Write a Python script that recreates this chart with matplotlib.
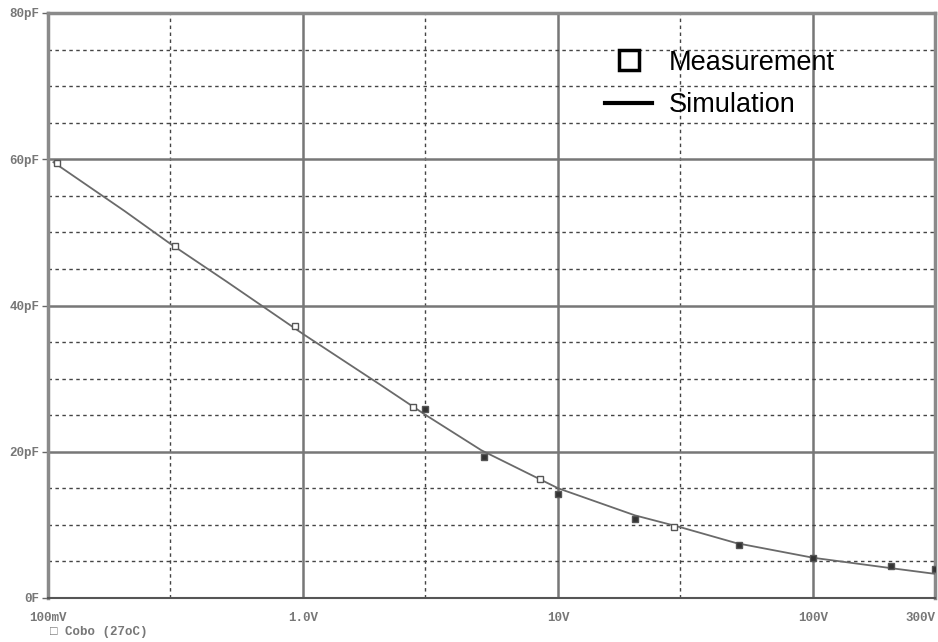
import matplotlib
matplotlib.use('Agg')
import matplotlib.pyplot as plt
from matplotlib.lines import Line2D
import numpy as np

# simulation trace (V, pF)
sim_v = [0.105, 0.2, 0.3, 0.5, 1.0, 2.0, 3.0, 5.0, 10.0, 20.0, 30.0, 50.0, 100.0, 200.0, 300.0]
sim_c = [59.6, 52.9, 48.5, 43.3, 36.1, 29.2, 25.1, 20.2, 15.0, 11.3, 9.7, 7.5, 5.5, 4.1, 3.3]

# measurement points, open and dark squares
meas_open_v = [0.108, 0.315, 0.93, 2.7, 8.5, 28.5]
meas_open_c = [59.5, 48.2, 37.2, 26.1, 16.3, 9.7]
meas_dark_v = [3.0, 5.1, 10.0, 20.0, 51.0, 100.0, 202.0, 300.0]
meas_dark_c = [25.9, 19.3, 14.2, 10.8, 7.25, 5.5, 4.4, 3.9]

xticks = [0.1, 1.0, 10.0, 100.0, 300.0]
xtick_labels = ['100mV', '1.0V', '10V', '100V', '300V']
yticks = [0, 20, 40, 60, 80]
ytick_labels = ['0F', '20pF', '40pF', '60pF', '80pF']

fig = plt.figure(figsize=(9.38, 6.42), dpi=100)
ax = fig.add_axes([48 / 938, 44 / 642, 887 / 938, 585 / 642])
ax.set_xscale('log')
ax.set_xlim(0.1, 300)
ax.set_ylim(0, 80)

# grid: solid at decades / 20pF, dashed elsewhere
for v in [1, 10, 100]:
    ax.axvline(v, color='#777777', lw=1.8, zorder=1)
for v in [0.3, 3, 30]:
    ax.axvline(v, color='#444444', lw=1.0, ls=(0, (2.5, 2.5)), zorder=1)
for c in [20, 40, 60]:
    ax.axhline(c, color='#777777', lw=1.8, zorder=1)
for c in range(5, 80, 5):
    if c % 20:
        ax.axhline(c, color='#444444', lw=1.0, ls=(0, (2.5, 2.5)), zorder=1)

ax.plot(sim_v, sim_c, color='#6a6a6a', lw=1.3, zorder=3)
ax.plot(meas_open_v, meas_open_c, 's', ms=5, mfc='white', mec='#555555', mew=1.0, ls='none', zorder=4)
ax.plot(meas_dark_v, meas_dark_c, 's', ms=5, mfc='#333333', mec='#555555', mew=1.0, ls='none', zorder=4)

for s in ['left', 'top', 'right']:
    ax.spines[s].set_color('#8a8a8a')
    ax.spines[s].set_linewidth(2.5)
ax.spines['bottom'].set_color('#555555')
ax.spines['bottom'].set_linewidth(1.5)

mono = dict(family='Liberation Mono', weight='bold', size=9, color='#777777')
ax.set_xticks(xticks)
ax.set_xticklabels(xtick_labels, fontdict=mono)
ax.xaxis.set_minor_locator(matplotlib.ticker.NullLocator())
ax.set_yticks(yticks)
ax.set_yticklabels(ytick_labels, fontdict=mono)
ax.tick_params(axis='x', length=0, pad=10)
ax.tick_params(axis='y', length=4, width=1, color='#666666', pad=2)
ax.get_xticklabels()[-1].set_horizontalalignment('right')

fig.text(50 / 938, 1 - 632 / 642, '\u25a1 Cobo (27oC)', va='center', ha='left', **mono)

handles = [Line2D([], [], marker='s', ls='none', ms=14, mfc='white', mec='black', mew=2.5),
           Line2D([], [], color='black', lw=3)]
ax.legend(handles, ['Measurement', 'Simulation'], loc='upper left',
          bbox_to_anchor=(0.628, 0.937), frameon=False, borderpad=0, borderaxespad=0,
          handlelength=1.75, handletextpad=0.6, labelspacing=0.6,
          prop={'family': 'Liberation Sans', 'size': 19.5})

plt.savefig('out.png', dpi=100)
